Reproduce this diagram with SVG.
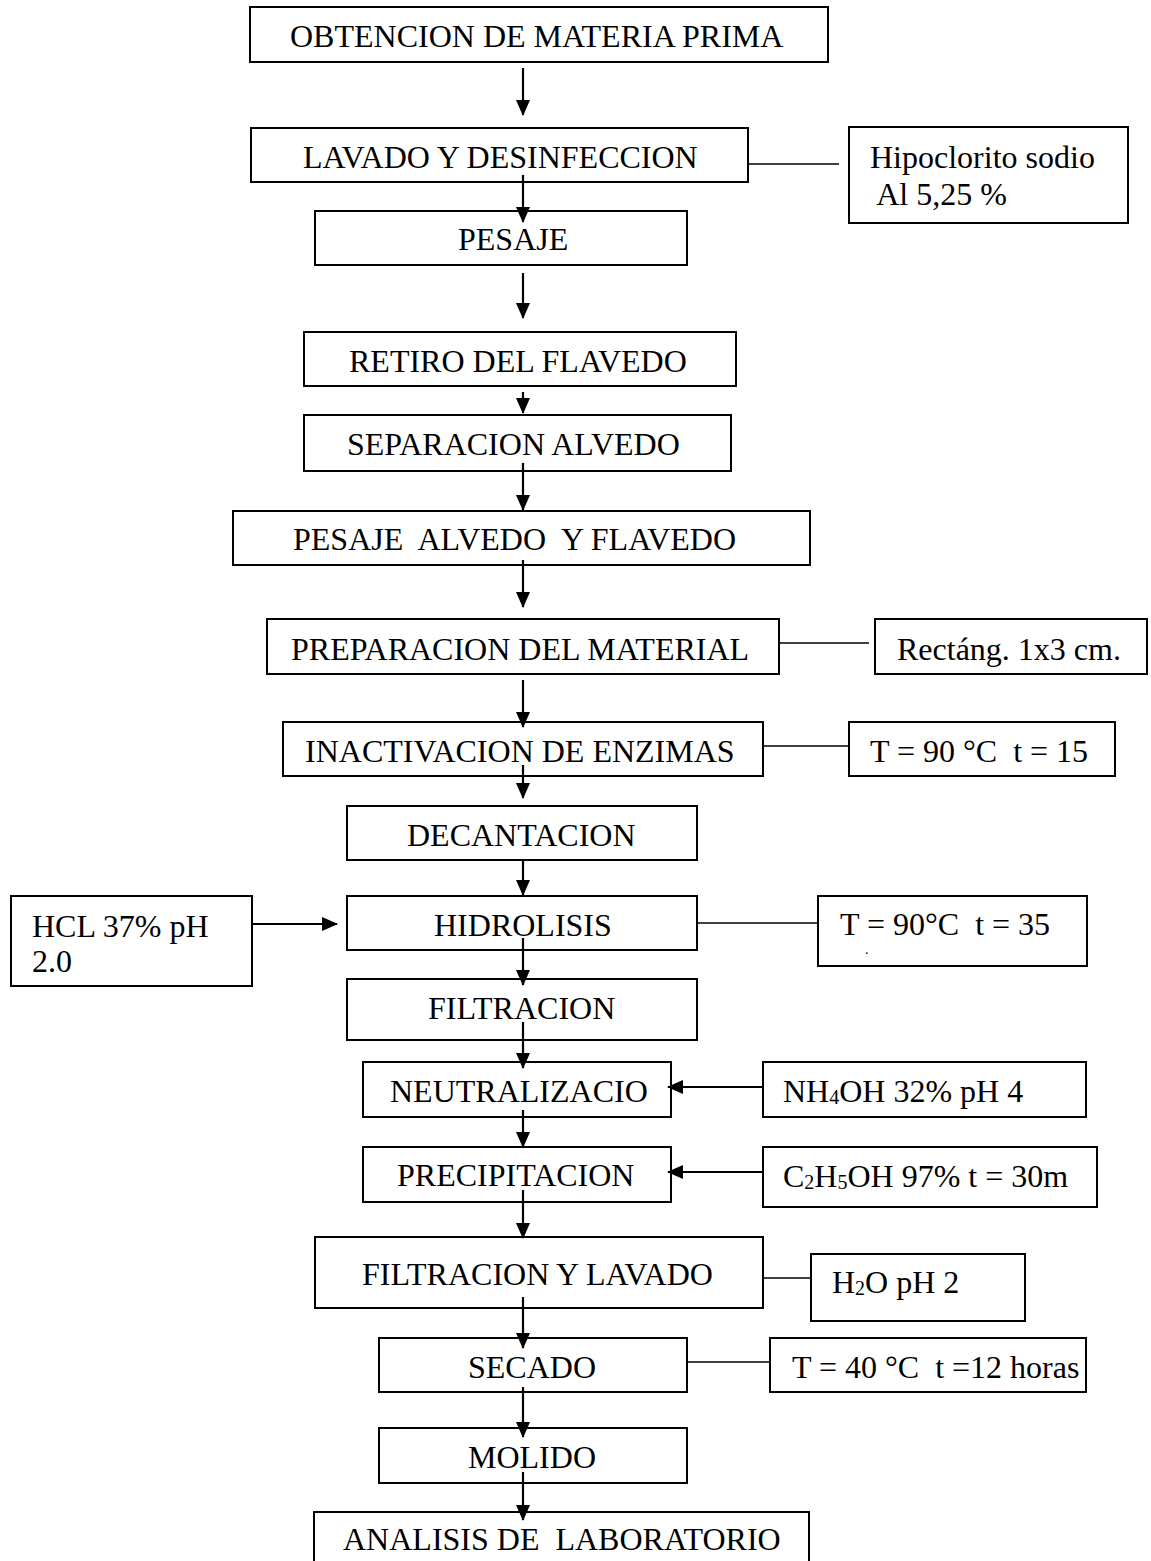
<svg xmlns="http://www.w3.org/2000/svg" width="1151" height="1561" viewBox="0 0 1151 1561">
<style>
.b{fill:#fff;stroke:#000;stroke-width:2}
.t{font-family:"Liberation Serif","Times New Roman",serif;font-size:32px;fill:#000;white-space:pre}
.s{font-size:20px}
.c{stroke:#000;stroke-width:2.2;fill:none}
.a{marker-end:url(#ah)}
</style>
<defs>
<marker id="ah" viewBox="0 0 16 14" refX="15" refY="7" markerWidth="16" markerHeight="14" markerUnits="userSpaceOnUse" orient="auto">
<path d="M0,0 L16,7 L0,14 z" fill="#000"/>
</marker>
</defs>
<g id="n1"><rect class="b" x="250" y="7" width="578" height="55"/><text class="t" x="290" y="47">OBTENCION DE MATERIA PRIMA</text></g>
<g id="n2"><rect class="b" x="251" y="128" width="497" height="54"/><text class="t" x="303" y="168">LAVADO Y DESINFECCION</text></g>
<g id="s1"><rect class="b" x="849" y="127" width="279" height="96"/><text class="t" x="870" y="168">Hipoclorito sodio</text><text class="t" x="870" y="205"> Al 5,25 %</text></g>
<g id="n3"><rect class="b" x="315" y="211" width="372" height="54"/><text class="t" x="458" y="250">PESAJE</text></g>
<g id="n4"><rect class="b" x="304" y="332" width="432" height="54"/><text class="t" x="349" y="372">RETIRO DEL FLAVEDO</text></g>
<g id="n5"><rect class="b" x="304" y="415" width="427" height="56"/><text class="t" x="347" y="455">SEPARACION ALVEDO</text></g>
<g id="n6"><rect class="b" x="233" y="511" width="577" height="54"/><text class="t" x="293" y="550">PESAJE  ALVEDO  Y FLAVEDO</text></g>
<g id="n7"><rect class="b" x="267" y="619" width="512" height="55"/><text class="t" x="291" y="660">PREPARACION DEL MATERIAL</text></g>
<g id="s2"><rect class="b" x="875" y="619" width="272" height="55"/><text class="t" x="897" y="660">Rectáng. 1x3 cm.</text></g>
<g id="n8"><rect class="b" x="283" y="722" width="480" height="54"/><text class="t" x="305" y="762">INACTIVACION DE ENZIMAS</text></g>
<g id="s3"><rect class="b" x="849" y="722" width="266" height="54"/><text class="t" x="870" y="762">T = 90 °C  t = 15</text></g>
<g id="n9"><rect class="b" x="347" y="806" width="350" height="54"/><text class="t" x="407" y="846">DECANTACION</text></g>
<g id="n10"><rect class="b" x="347" y="896" width="350" height="54"/><text class="t" x="434" y="936">HIDROLISIS</text></g>
<g id="s4"><rect class="b" x="11" y="896" width="241" height="90"/><text class="t" x="32" y="937">HCL 37% pH</text><text class="t" x="32" y="972">2.0</text></g>
<g id="s5"><rect class="b" x="818" y="896" width="269" height="70"/><text class="t" x="840" y="935">T = 90°C  t = 35</text><text class="t" x="865" y="954" style="font-size:14px">.</text></g>
<g id="n11"><rect class="b" x="347" y="979" width="350" height="61"/><text class="t" x="428" y="1019">FILTRACION</text></g>
<g id="n12"><rect class="b" x="363" y="1062" width="308" height="55"/><text class="t" x="390" y="1102">NEUTRALIZACIO</text></g>
<g id="s6"><rect class="b" x="763" y="1062" width="323" height="55"/><text class="t" x="783" y="1102">NH<tspan class="s" dy="2">4</tspan><tspan dy="-2">OH 32% pH 4</tspan></text></g>
<g id="n13"><rect class="b" x="363" y="1147" width="308" height="55"/><text class="t" x="397" y="1186">PRECIPITACION</text></g>
<g id="s7"><rect class="b" x="763" y="1147" width="334" height="60"/><text class="t" x="783" y="1187">C<tspan class="s" dy="2">2</tspan><tspan dy="-2">H</tspan><tspan class="s" dy="2">5</tspan><tspan dy="-2">OH 97% t = 30m</tspan></text></g>
<g id="n14"><rect class="b" x="315" y="1237" width="448" height="71"/><text class="t" x="362" y="1285">FILTRACION Y LAVADO</text></g>
<g id="s8"><rect class="b" x="811" y="1254" width="214" height="67"/><text class="t" x="832" y="1293">H<tspan class="s" dy="2">2</tspan><tspan dy="-2">O pH 2</tspan></text></g>
<g id="n15"><rect class="b" x="379" y="1338" width="308" height="54"/><text class="t" x="468" y="1378">SECADO</text></g>
<g id="s9"><rect class="b" x="770" y="1338" width="316" height="54"/><text class="t" x="792" y="1378">T = 40 °C  t =12 horas</text></g>
<g id="n16"><rect class="b" x="379" y="1428" width="308" height="55"/><text class="t" x="468" y="1468">MOLIDO</text></g>
<g id="n17"><rect class="b" x="314" y="1512" width="495" height="60"/><text class="t" x="343" y="1550">ANALISIS DE  LABORATORIO</text></g>
<g id="connectors">
<line class="c a" x1="523" y1="68" x2="523" y2="115"/>
<line class="c a" x1="523" y1="175" x2="523" y2="222"/>
<line class="c a" x1="523" y1="273" x2="523" y2="318"/>
<line class="c a" x1="523" y1="392" x2="523" y2="413"/>
<line class="c a" x1="523" y1="463" x2="523" y2="510"/>
<line class="c a" x1="523" y1="560" x2="523" y2="607"/>
<line class="c a" x1="523" y1="680" x2="523" y2="727"/>
<line class="c a" x1="523" y1="765" x2="523" y2="798"/>
<line class="c a" x1="523" y1="860" x2="523" y2="895"/>
<line class="c a" x1="523" y1="938" x2="523" y2="985"/>
<line class="c a" x1="523" y1="1022" x2="523" y2="1068"/>
<line class="c a" x1="523" y1="1110" x2="523" y2="1147"/>
<line class="c a" x1="523" y1="1190" x2="523" y2="1238"/>
<line class="c a" x1="523" y1="1297" x2="523" y2="1348"/>
<line class="c a" x1="523" y1="1387" x2="523" y2="1437"/>
<line class="c a" x1="523" y1="1472" x2="523" y2="1520"/>
<line class="c a" x1="252" y1="924" x2="337" y2="924"/>
<line class="c a" x1="763" y1="1087" x2="668" y2="1087"/>
<line class="c a" x1="763" y1="1172" x2="668" y2="1172"/>
<line class="c" style="stroke-width:1.5" x1="748" y1="164" x2="839" y2="164"/>
<line class="c" style="stroke-width:1.5" x1="779" y1="643" x2="869" y2="643"/>
<line class="c" style="stroke-width:1.5" x1="763" y1="746" x2="849" y2="746"/>
<line class="c" style="stroke-width:1.5" x1="697" y1="923" x2="818" y2="923"/>
<line class="c" style="stroke-width:1.5" x1="763" y1="1278" x2="811" y2="1278"/>
<line class="c" style="stroke-width:1.5" x1="687" y1="1362" x2="770" y2="1362"/>
</g>
</svg>
